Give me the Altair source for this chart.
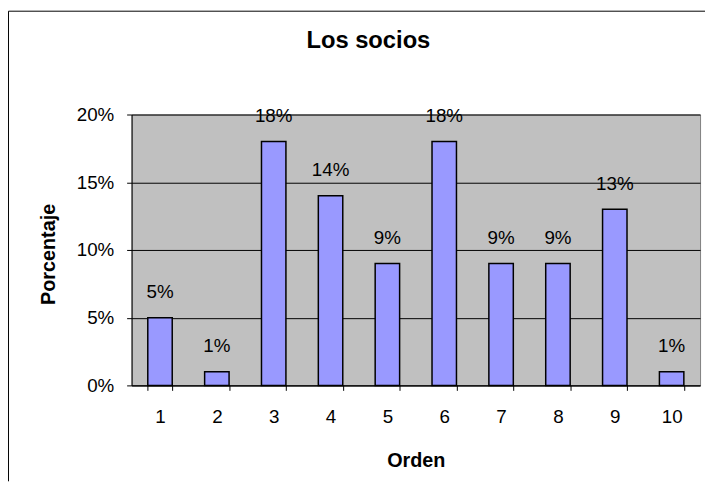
import altair as alt
import pandas as pd

orden = [1, 2, 3, 4, 5, 6, 7, 8, 9, 10]
porcentaje = [0.05, 0.01, 0.18, 0.14, 0.09, 0.18, 0.09, 0.09, 0.13, 0.01]
etiquetas = ["5%", "1%", "18%", "14%", "9%", "18%", "9%", "9%", "13%", "1%"]
y_ticks = [0, 0.05, 0.10, 0.15, 0.20]

df = pd.DataFrame({"Orden": orden, "Porcentaje": porcentaje, "Etiqueta": etiquetas})

FONT = "Liberation Sans"
W, H = 575, 274
PAD_L, PAD_T, PAD_R, PAD_B = 125, 105, 5, 97

x_enc = alt.X(
    "Orden:O",
    title="Orden",
    scale=alt.Scale(paddingInner=0.57, paddingOuter=0.285),
    axis=alt.Axis(
        labelAngle=0,
        tickBand="extent",
        tickSize=5,
        labelPadding=33,
        labelBaseline="alphabetic",
        labelFontSize=19,
        titleFontSize=20,
        titleFontWeight="bold",
        titleBaseline="alphabetic",
        titleY=82,
        domainColor="black",
        tickColor="black",
        grid=False,
    ),
)
y_enc = alt.Y(
    "Porcentaje:Q",
    title="Porcentaje",
    scale=alt.Scale(domain=[0, 0.2], nice=False),
    axis=alt.Axis(
        values=y_ticks,
        format=".0%",
        tickSize=5,
        labelPadding=13,
        labelFontSize=19,
        titleFontSize=20,
        titleFontWeight="bold",
        titleAngle=270,
        titleAlign="center",
        titleBaseline="alphabetic",
        titleX=-78,
        titleY=141,
        grid=True,
        gridColor="black",
        gridWidth=1,
        domainColor="black",
        tickColor="black",
    ),
)

bars = alt.Chart(df).mark_bar(color="#9999FF", stroke="black", strokeWidth=1.5).encode(
    x=x_enc, y=y_enc
)
labels = alt.Chart(df).mark_text(
    font=FONT, fontSize=19, baseline="alphabetic", dy=-20, color="black"
).encode(x="Orden:O", y="Porcentaje:Q", text="Etiqueta:N")

border_df = pd.DataFrame({"k": [0]})
left_border = alt.Chart(border_df).mark_rule(color="black", strokeWidth=1).encode(
    x=alt.value(-PAD_L + 0.5), y=alt.value(-PAD_T + 0.5), y2=alt.value(H + PAD_B)
)
top_border = alt.Chart(border_df).mark_rule(color="black", strokeWidth=1).encode(
    x=alt.value(-PAD_L + 0.5), x2=alt.value(W + PAD_R), y=alt.value(-PAD_T + 0.5)
)

chart = (
    alt.layer(bars, labels, left_border, top_border)
    .properties(
        width=W,
        height=H,
        autosize=alt.AutoSizeParams(type="none"),
        padding={"left": PAD_L, "top": PAD_T, "right": PAD_R, "bottom": PAD_B},
        title=alt.TitleParams(
            text="Los socios",
            font=FONT,
            fontSize=24,
            fontWeight="bold",
            anchor="middle",
            baseline="alphabetic",
            offset=-62,
            dx=-48,
            color="black",
        ),
        background="white",
    )
    .configure_view(fill="#C0C0C0", stroke="#808080", strokeWidth=1)
    .configure_axis(labelFont=FONT, titleFont=FONT, labelColor="black", titleColor="black")
)

chart.save("out.html", embed_options={"renderer": "svg", "actions": False})
